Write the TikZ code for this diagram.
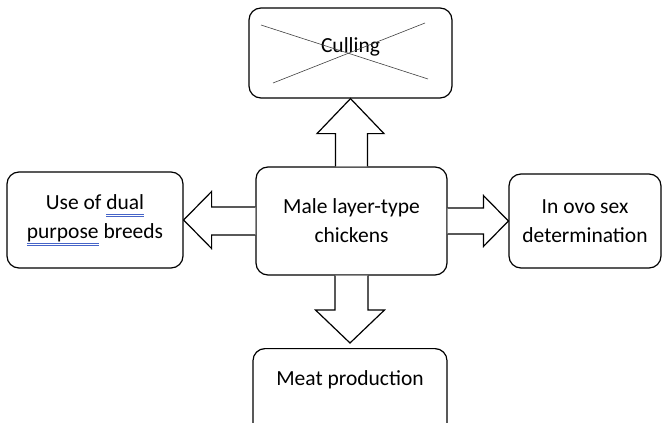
\documentclass[tikz,border=0pt]{standalone}
\usepackage{fontspec}
\setmainfont{Carlito}
\usetikzlibrary{calc}
\definecolor{spellblue}{RGB}{70,100,200}
\newsavebox\spellbox
\newcommand{\spellchk}[1]{\sbox\spellbox{#1}\rlap{\color{spellblue}\rule[-4.5pt]{\wd\spellbox}{0.7pt}\hspace{-\wd\spellbox}\rule[-6.5pt]{\wd\spellbox}{0.7pt}}#1}
\tikzset{
  box/.style={draw, line width=1.2pt, rounded corners=12pt, align=center, inner sep=0pt},
  fatarrow/.style={draw, line width=1.2pt, fill=white, line join=miter},
}
\begin{document}
\begin{tikzpicture}[x=1pt, y=-1pt, font=\fontsize{21.5}{29}\selectfont]
  \clip (0, 0) rectangle (670, 423);

  % boxes
  \node[box, minimum width=203, minimum height=90] (cull) at (350.5, 53) {};
  \node at (350.5, 47) {Culling};
  \node[box, minimum width=191, minimum height=108] (male) at (351.5, 221) {Male layer-type\\chickens};
  \node[box, minimum width=176, minimum height=96] (dual) at (95, 220) {Use of \spellchk{dual}\\\spellchk{purpose} breeds};
  \node[box, minimum width=152, minimum height=94] (ovo) at (585, 221) {In ovo sex\\determination};
  \node[box, anchor=north, minimum width=194, text height=29pt, text depth=52pt, inner ysep=8pt] (meat) at (350, 348) {Meat production};

  % croix sur culling
  \draw[line width=0.6pt, black!75] ($(cull.center)+(-89.5, -28)$) -- ($(cull.center)+(77.5, 26)$);
  \draw[line width=0.6pt, black!75] ($(cull.center)+(74.5, -30)$) -- ($(cull.center)+(-77.5, 30)$);

  % fleches
  \draw[fatarrow] ($(male.north)+(-16, 0)$) |- ($(cull.south)+(-33.5, 35)$) -- (cull.south)
    -- ($(cull.south)+(33.5, 35)$) -| ($(male.north)+(16, 0)$);
  \draw[fatarrow] ($(male.south)+(-16.5, 0)$) |- ($(meat.north)+(-34.5, -38)$) -- ($(meat.north)+(0, -5)$)
    -- ($(meat.north)+(34.5, -38)$) -| ($(male.south)+(16.5, 0)$);
  \draw[fatarrow] ($(male.east)+(0, -13)$) -| ($(ovo.west)+(-25, -25.5)$) -- (ovo.west)
    -- ($(ovo.west)+(-25, 25.5)$) |- ($(male.east)+(0, 13)$);
  \draw[fatarrow] ($(male.west)+(0, -14)$) -| ($(dual.east)+(28, -28.5)$) -- (dual.east)
    -- ($(dual.east)+(28, 28.5)$) |- ($(male.west)+(0, 14)$);
\end{tikzpicture}
\end{document}
